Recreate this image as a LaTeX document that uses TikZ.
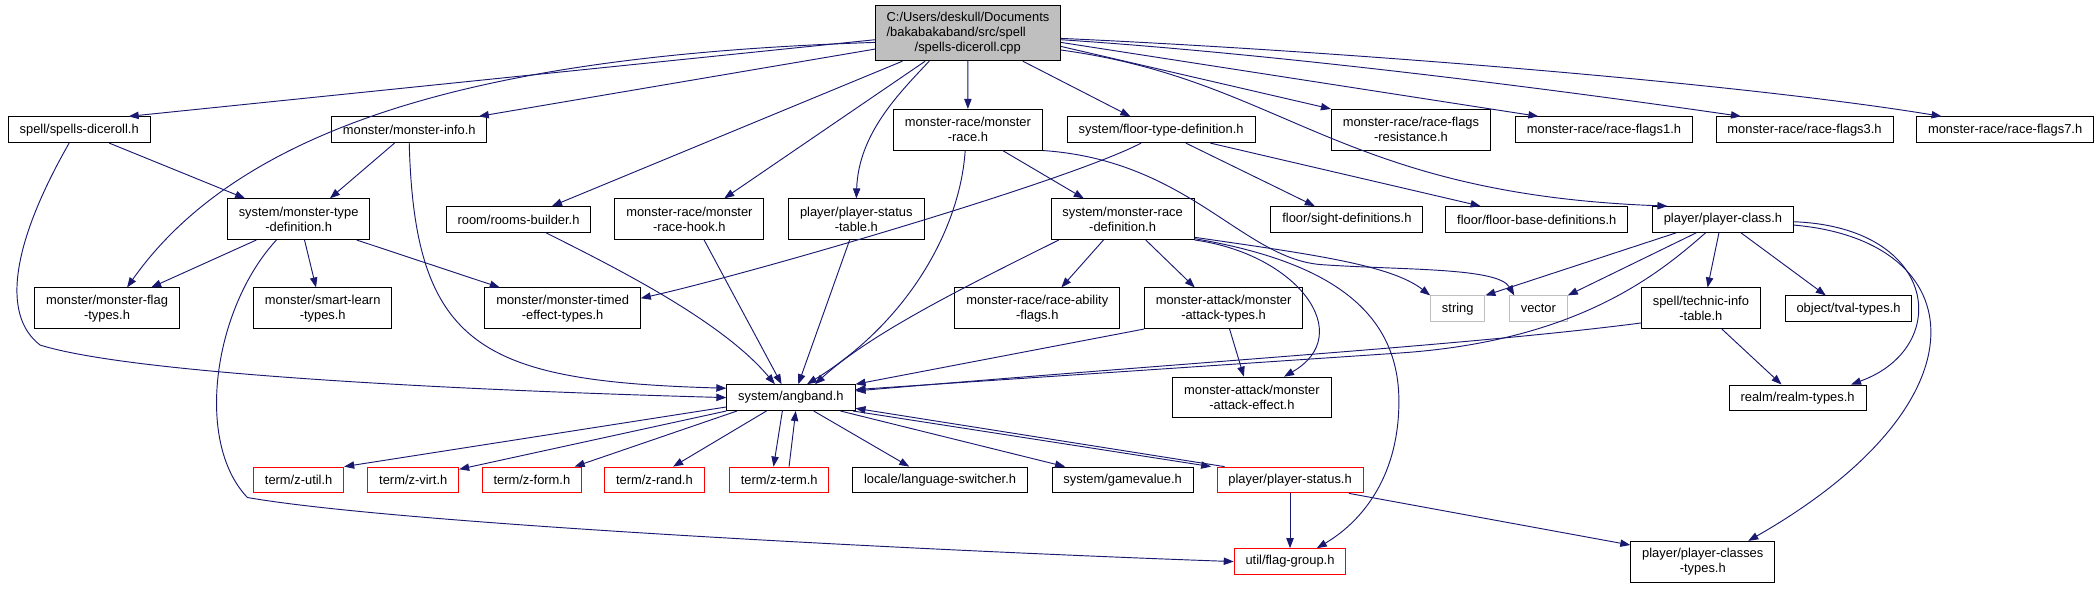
\documentclass[tikz,border=0pt]{standalone}
\usepackage{fontspec}
\setmainfont{Liberation Sans}
\usetikzlibrary{arrows.meta}
\definecolor{edgeblue}{HTML}{191970}
\definecolor{rootgray}{HTML}{BFBFBF}

\begin{document}
\begin{tikzpicture}[x=1pt, y=-1pt,
	every node/.style={font=\fontsize{9.65}{11.2}\selectfont},
	file/.style={draw=black, line width=0.7pt, fill=white, inner xsep=8.5pt, inner ysep=2pt, minimum height=19.3pt, align=center},
	twoline/.style={file, minimum height=30.4pt},
	ext/.style={file, draw=rootgray},
	noref/.style={file, draw=red},
	dep/.style={draw=edgeblue, line width=0.7pt, -{Triangle[length=7.5pt, width=5.5pt]}}]
	\useasboundingbox (0,0) rectangle (1568,440);

	\node[file, fill=rootgray, align=left, minimum height=41.4pt, inner xsep=8.3pt] (root) at (723.8,24.7) {C:/Users/deskull/Documents\\/bakabakaband/src/spell\\\hspace*{21pt}/spells-diceroll.cpp};

	\node[file] (spellsh) at (59.2,97) {spell/spells-diceroll.h};
	\node[file] (info) at (306,97) {monster/monster-info.h};
	\node[twoline] (mrace) at (723.7,97) {monster-race/monster\\-race.h};
	\node[file] (floor) at (868.2,97) {system/floor-type-definition.h};
	\node[twoline] (resist) at (1055,97) {monster-race/race-flags\\-resistance.h};
	\node[file] (flags1) at (1199.3,97) {monster-race/race-flags1.h};
	\node[file] (flags3) at (1349.3,97) {monster-race/race-flags3.h};
	\node[file] (flags7) at (1499.3,97) {monster-race/race-flags7.h};

	\node[twoline] (mtype) at (223.3,163.9) {system/monster-type\\-definition.h};
	\node[file] (rooms) at (387.7,164.1) {room/rooms-builder.h};
	\node[twoline] (hook) at (515.5,163.9) {monster-race/monster\\-race-hook.h};
	\node[twoline] (stable) at (640.3,163.9) {player/player-status\\-table.h};
	\node[twoline] (mracedef) at (839.4,163.9) {system/monster-race\\-definition.h};
	\node[file] (sight) at (1007.1,164.1) {floor/sight-definitions.h};
	\node[file] (floorbase) at (1149.1,164.1) {floor/floor-base-definitions.h};
	\node[file] (pclass) at (1288.3,164.1) {player/player-class.h};

	\node[twoline] (flagtypes) at (80,230.5) {monster/monster-flag\\-types.h};
	\node[twoline] (smart) at (241.3,230.5) {monster/smart-learn\\-types.h};
	\node[twoline] (timed) at (420.7,230.5) {monster/monster-timed\\-effect-types.h};
	\node[twoline] (ability) at (775.6,230.5) {monster-race/race-ability\\-flags.h};
	\node[twoline] (atktypes) at (914.9,230.5) {monster-attack/monster\\-attack-types.h};
	\node[ext] (string) at (1090,230.9) {string};
	\node[ext] (vector) at (1150.3,230.9) {vector};
	\node[twoline] (technic) at (1271.8,230.5) {spell/technic-info\\-table.h};
	\node[file] (tval) at (1382.2,230.9) {object/tval-types.h};

	\node[file] (angband) at (591.4,297.3) {system/angband.h};
	\node[twoline] (atkeffect) at (936.1,297.2) {monster-attack/monster\\-attack-effect.h};
	\node[file] (realm) at (1344.1,297.5) {realm/realm-types.h};

	\node[noref] (zutil) at (223.3,358.9) {term/z-util.h};
	\node[noref] (zvirt) at (309,358.9) {term/z-virt.h};
	\node[noref] (zform) at (397.7,358.9) {term/z-form.h};
	\node[noref] (zrand) at (489.3,358.9) {term/z-rand.h};
	\node[noref] (zterm) at (582.6,358.9) {term/z-term.h};
	\node[file] (lang) at (702.9,358.9) {locale/language-switcher.h};
	\node[file] (gameval) at (839.4,358.9) {system/gamevalue.h};
	\node[noref] (pstatus) at (964.6,358.9) {player/player-status.h};

	\node[noref] (flaggroup) at (964.6,419.9) {util/flag-group.h};
	\node[twoline] (classes) at (1273.2,420) {player/player-classes\\-types.h};

	\draw[dep] ([yshift=-5pt]root.west) -- ([xshift=37pt]spellsh.north);
	\draw[dep] ([yshift=-7pt]root.west) .. controls (400,40) and (190,80) .. ([xshift=15pt]flagtypes.north);
	\draw[dep] ([yshift=-12pt]root.west) -- ([xshift=52pt]info.north);
	\draw[dep] ([xshift=-49pt]root.south) -- ([xshift=25pt]rooms.north);
	\draw[dep] ([xshift=-32pt]root.south) -- ([xshift=26pt]hook.north);
	\draw[dep] ([xshift=-29pt]root.south) .. controls (672,70) and (642,100) .. (stable.north);
	\draw[dep] (root) -- (mrace);
	\draw[dep] ([xshift=41pt]root.south) -- ([xshift=-23pt]floor.north);
	\draw[dep] ([yshift=-10pt]root.east) -- (resist.north west);
	\draw[dep] ([yshift=-7pt]root.east) -- ([xshift=-49pt]flags1.north);
	\draw[dep] ([yshift=-5pt]root.east) .. controls (950,40) and (1150,65) .. ([xshift=-47.5pt]flags3.north);
	\draw[dep] ([yshift=-4pt]root.east) .. controls (1000,38) and (1300,62) .. ([xshift=-47.5pt]flags7.north);
	\draw[dep] ([yshift=-12.7pt]root.east) .. controls (960,60) and (1000,145) .. ([xshift=-41.5pt]pclass.north);

	\draw[dep] ([xshift=22.5pt]spellsh.south) -- ([xshift=-40pt]mtype.north);
	\draw[dep] ([xshift=-7.5pt]spellsh.south) .. controls (10,180) and (0,235) .. (30,258) .. controls (100,280) and (350,292) .. (angband.west);
	\draw[dep] ([xshift=-11pt]info.south) -- ([xshift=23.4pt]mtype.north);
	\draw[dep] (info.south) .. controls (310,260) and (360,285) .. ([yshift=7pt]angband.west);
	\draw[dep] ([xshift=-31.6pt]mtype.south) -- ([xshift=33pt]flagtypes.north);
	\draw[dep] ([xshift=4.4pt]mtype.south) -- ([xshift=-5pt]smart.north);
	\draw[dep] ([xshift=43.4pt]mtype.south) -- ([xshift=-47pt]timed.north);
	\draw[dep] ([xshift=-16.6pt]mtype.south) .. controls (160,230) and (145,330) .. (185,372) .. controls (300,392) and (700,412) .. (flaggroup.west);
	\draw[dep] ([xshift=-15pt]floor.south) .. controls (800,135) and (560,205) .. ([yshift=7.5pt]timed.east);
	\draw[dep] ([xshift=18.5pt]floor.south) -- ([xshift=-24pt]sight.north);
	\draw[dep] ([xshift=36.8pt]floor.south) -- ([xshift=-42pt]floorbase.north);
	\draw[dep] ([xshift=20.6pt]rooms.south) .. controls (460,200) and (540,240) .. ([xshift=-12pt]angband.north);
	\draw[dep] ([xshift=11pt]hook.south) -- ([xshift=-7pt]angband.north);
	\draw[dep] ([xshift=-5pt]stable.south) -- ([xshift=5.5pt]angband.north);
	\draw[dep] ([xshift=-2pt]mrace.south) .. controls (718,170) and (680,240) .. ([xshift=12pt]angband.north);
	\draw[dep] ([xshift=26pt]mrace.south) -- ([xshift=-29pt]mracedef.north);
	\draw[dep] (mrace.south east) .. controls (890,120) and (930,195) .. (990,198) .. controls (1050,202) and (1120,200) .. ([xshift=-18pt]vector.north);
	\draw[dep] ([xshift=-47.7pt]mracedef.south) .. controls (720,215) and (650,250) .. ([xshift=18pt]angband.north);
	\draw[dep] ([xshift=-14.3pt]mracedef.south) -- ([xshift=18pt]ability.north);
	\draw[dep] ([xshift=17.3pt]mracedef.south) -- ([xshift=-21.5pt]atktypes.north);
	\draw[dep] (mracedef.south east) .. controls (970,190) and (1015,250) .. ([xshift=24pt]atkeffect.north);
	\draw[dep] ([yshift=2pt]mracedef.south east) .. controls (980,190) and (1040,198) .. (string.north west);
	\draw[dep] ([yshift=1pt]mracedef.south east) .. controls (990,195) and (1046,230) .. (1046,300) .. controls (1046,360) and (1015,392) .. ([xshift=20pt]flaggroup.north);
	\draw[dep] (atktypes.south west) -- (angband.north east);
	\draw[dep] ([xshift=4.5pt]atktypes.south) -- ([xshift=-6pt]atkeffect.north);
	\draw[dep] ([xshift=-35pt]pclass.south) -- (string.north east);
	\draw[dep] ([xshift=-20pt]pclass.south) -- (vector.north east);
	\draw[dep] ([xshift=-13pt]pclass.south) .. controls (1240,205) and (1180,255) .. (1046,264) -- ([yshift=6pt]angband.east);
	\draw[dep] ([xshift=-3pt]pclass.south) -- ([xshift=5pt]technic.north);
	\draw[dep] ([xshift=13.5pt]pclass.south) -- ([xshift=-17pt]tval.north);
	\draw[dep] ([yshift=-1.7pt]pclass.east) .. controls (1450,170) and (1460,260) .. ([xshift=40pt]realm.north);
	\draw[dep] ([yshift=-4.2pt]pclass.east) .. controls (1475,180) and (1490,300) .. ([xshift=34pt]classes.north);
	\draw[dep] ([yshift=-11pt]technic.west) .. controls (1100,258) and (900,270) .. ([yshift=5pt]angband.east);
	\draw[dep] ([xshift=15.7pt]technic.south) -- ([xshift=-12pt]realm.north);

	\draw[dep] ([yshift=-7pt]angband.west) -- (zutil.north east);
	\draw[dep] (angband.south west) -- ([yshift=-2pt]zvirt.north east);
	\draw[dep] ([xshift=8pt]angband.south west) -- ([xshift=32pt]zform.north);
	\draw[dep] ([xshift=30pt]angband.south west) -- ([xshift=14pt]zrand.north);
	\draw[dep] ([xshift=-6.4pt]angband.south) -- ([xshift=-4.2pt]zterm.north);
	\draw[dep] ([xshift=7.4pt]zterm.north) -- ([xshift=3.6pt]angband.south);
	\draw[dep] ([xshift=17pt]angband.south) -- ([xshift=-23pt]lang.north);
	\draw[dep] ([xshift=37pt]angband.south) -- ([xshift=-43pt]gameval.north);
	\draw[dep] ([xshift=-2pt]angband.south east) -- ([xshift=-4pt]pstatus.north west);
	\draw[dep] ([xshift=6pt]pstatus.north west) -- ([yshift=-8pt]angband.east);
	\draw[dep] (pstatus) -- (flaggroup);
	\draw[dep] ([xshift=44pt]pstatus.south) -- ([yshift=12.5pt]classes.west);
\end{tikzpicture}
\end{document}
